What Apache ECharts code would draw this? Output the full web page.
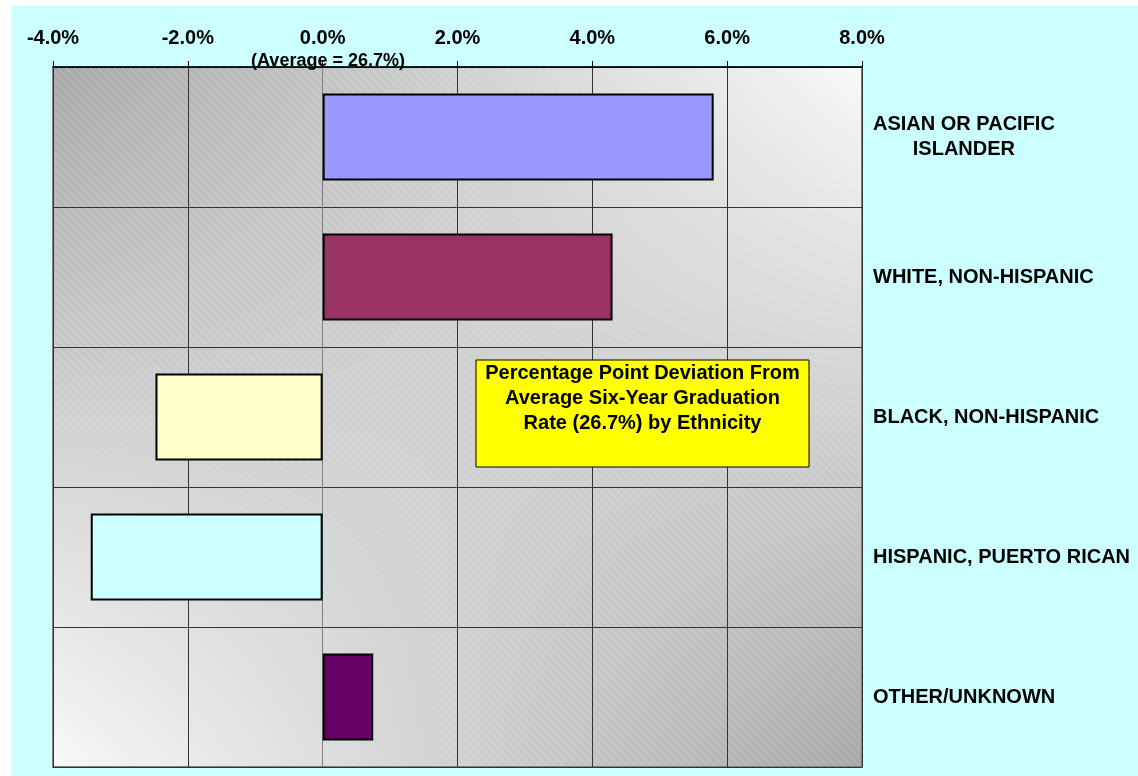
<!DOCTYPE html>
<html>
<head>
<meta charset="utf-8">
<title>Graduation rate deviation by ethnicity</title>
<script src="https://cdn.jsdelivr.net/npm/echarts@6/dist/echarts.min.js"></script>
<style>
  html, body { margin:0; padding:0; background:#fff; }
  #chart { position:absolute; left:11px; top:6px; width:1127px; height:770px; }
</style>
</head>
<body>
<div id="chart"></div>
<script>
// data
const categories = ['ASIAN OR PACIFIC\nISLANDER', 'WHITE, NON-HISPANIC', 'BLACK, NON-HISPANIC', 'HISPANIC, PUERTO RICAN', 'OTHER/UNKNOWN'];
const deviation = [5.8, 4.3, -2.48, -3.44, 0.75];
const barColors = ['#9999FF', '#993366', '#FFFFCC', '#CCFFFF', '#660066'];
const xTicks = [-4, -2, 0, 2, 4, 6, 8];
const averageNote = '(Average = 26.7%)';
const boxTitle = 'Percentage Point Deviation From\nAverage Six-Year Graduation\nRate (26.7%) by Ethnicity';

const FONT = '"Liberation Sans", Arial, sans-serif';
const plot = { left: 42, top: 61, width: 809, height: 700 };

// gray shaded plot fill with faint diagonal hatch
function plotFill(w, h) {
  const c = document.createElement('canvas');
  c.width = w; c.height = h;
  const ctx = c.getContext('2d');
  const img = ctx.createImageData(w, h);
  for (let y = 0; y < h; y++) {
    for (let x = 0; x < w; x++) {
      const u = x / (w - 1) - 0.5, v = y / (h - 1) - 0.5;
      const g = Math.round(208 - 160 * u * v);
      const i = (y * w + x) * 4;
      img.data[i] = g; img.data[i + 1] = g; img.data[i + 2] = g; img.data[i + 3] = 255;
    }
  }
  ctx.putImageData(img, 0, 0);
  ctx.strokeStyle = 'rgba(225,255,255,0.28)';
  ctx.lineWidth = 1;
  ctx.beginPath();
  for (let k = -h; k < w; k += 8) {
    ctx.moveTo(k, 0);
    ctx.lineTo(k + h, h);
  }
  ctx.stroke();
  return c;
}

const chart = echarts.init(document.getElementById('chart'));

const splitColors = xTicks.map(t => t === 0 ? '#808080' : '#333333');

chart.setOption({
  backgroundColor: '#CCFFFF',
  animation: false,
  grid: { left: plot.left, top: plot.top, width: plot.width, height: plot.height, show: true, borderColor: '#808080', borderWidth: 2, backgroundColor: 'transparent' },
  xAxis: {
    type: 'value', position: 'top',
    min: xTicks[0], max: xTicks[xTicks.length - 1], interval: xTicks[1] - xTicks[0],
    axisLine: { show: true, onZero: false, lineStyle: { color: '#000', width: 1.5 } },
    axisTick: { show: true, length: 6, lineStyle: { color: '#000' } },
    axisLabel: { formatter: v => v.toFixed(1) + '%', fontFamily: FONT, fontWeight: 'bold', fontSize: 20, color: '#000', margin: 19 },
    splitLine: { show: true, lineStyle: { color: splitColors, width: 1 } }
  },
  yAxis: {
    type: 'category', data: categories, inverse: true, position: 'right',
    axisLine: { show: false }, axisTick: { show: false },
    axisLabel: {
      margin: 11, align: 'left', color: '#000',
      formatter: v => v.split('\n').map(s => '{c|' + s + '}').join('\n'),
      rich: { c: { align: 'center', fontFamily: FONT, fontWeight: 'bold', fontSize: 20, lineHeight: 25, color: '#000' } }
    },
    splitLine: { show: true, lineStyle: { color: '#333333', width: 1 } }
  },
  series: [{
    type: 'bar',
    barWidth: 87,
    data: deviation.map((v, i) => ({ value: v, itemStyle: { color: barColors[i] } })),
    itemStyle: { borderColor: '#000', borderWidth: 2 }
  }],
  graphic: [
    { type: 'image', left: plot.left, top: plot.top, z: -10, silent: true,
      style: { image: plotFill(plot.width, plot.height), width: plot.width, height: plot.height } },
    { type: 'text', x: 317, y: 55, z: 10,
      style: { text: averageNote, fontFamily: FONT, fontWeight: 'bold', fontSize: 18, fill: '#000', align: 'center', verticalAlign: 'middle' } },
    { type: 'rect', z: 10, shape: { x: 465, y: 354, width: 333, height: 107 },
      style: { fill: '#FFFF00', stroke: '#000', lineWidth: 1 } },
    { type: 'text', x: 631.5, y: 355, z: 11,
      style: { text: boxTitle, fontFamily: FONT, fontWeight: 'bold', fontSize: 20, lineHeight: 25, fill: '#000', align: 'center', verticalAlign: 'top' } }
  ]
});
</script>
</body>
</html>
